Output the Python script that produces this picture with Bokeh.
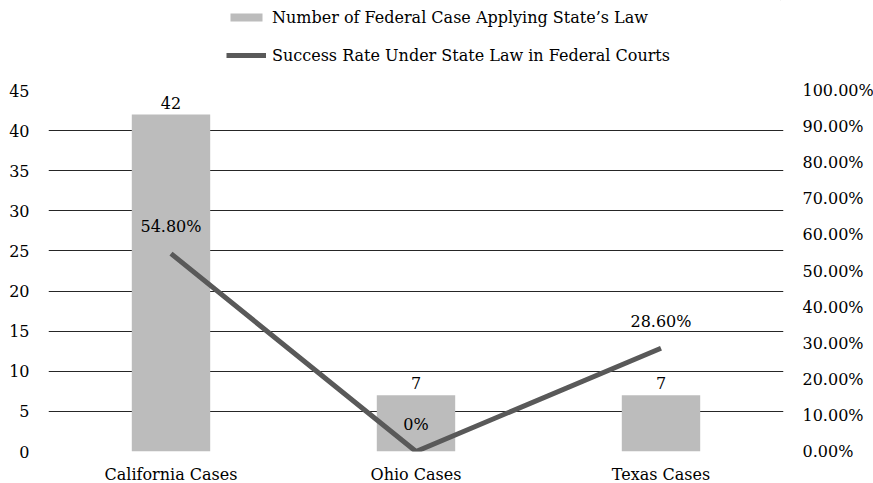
from bokeh.plotting import figure
from bokeh.layouts import column
from bokeh.models import (ColumnDataSource, Range1d, LinearAxis, FixedTicker,
                          NumeralTickFormatter, Legend, LegendItem, FactorRange)
from bokeh.core.properties import value
from bokeh.embed import file_html
from bokeh.resources import INLINE

categories = ["California Cases", "Ohio Cases", "Texas Cases"]
case_counts = [42, 7, 7]
count_labels = ["42", "7", "7"]
success_rates = [0.548, 0.0, 0.286]
rate_labels = ["54.80%", "0%", "28.60%"]
left_ticks = [0, 5, 10, 15, 20, 25, 30, 35, 40, 45]
right_ticks = [0.0, 0.1, 0.2, 0.3, 0.4, 0.5, 0.6, 0.7, 0.8, 0.9, 1.0]
series_names = ["Number of Federal Case Applying State\u2019s Law",
                "Success Rate Under State Law in Federal Courts"]

FONT = "DejaVu Serif"
FS = "16px"
BAR_COLOR = "#bcbcbc"
LINE_COLOR = "#595959"

src = ColumnDataSource(dict(cat=categories, cnt=case_counts, cntlab=count_labels,
                            rate=success_rates, ratelab=rate_labels))

# ---------------- main chart ----------------
p = figure(x_range=FactorRange(*categories), y_range=Range1d(0, 45),
           frame_width=735, frame_height=361,
           output_backend="svg", toolbar_location=None,
           min_border_left=48, min_border_right=90, min_border_top=12,
           min_border_bottom=32)
p.outline_line_color = None
p.background_fill_color = "white"
p.border_fill_color = "white"
p.x_range.range_padding = 0
p.extra_y_ranges = {"pct": Range1d(0, 1)}

p.vbar(x="cat", top="cnt", width=0.32, source=src,
       fill_color=BAR_COLOR, line_color=None)
p.line(x="cat", y="rate", source=src, y_range_name="pct",
       line_color=LINE_COLOR, line_width=5)

p.text(x="cat", y="cnt", text="cntlab", source=src, text_align="center",
       text_baseline="middle", y_offset=-12, text_font=value(FONT),
       text_font_size=FS, text_color="#000000")
p.text(x="cat", y="rate", text="ratelab", source=src, y_range_name="pct",
       text_align="center", text_baseline="middle", y_offset=-27,
       text_font=value(FONT), text_font_size=FS, text_color="#000000")

p.yaxis.ticker = FixedTicker(ticks=left_ticks)
for ax in [p.xaxis[0], p.yaxis[0]]:
    ax.axis_line_color = None
    ax.major_tick_line_color = None
    ax.minor_tick_line_color = None
    ax.major_tick_out = 0
    ax.major_tick_in = 0
    ax.minor_tick_out = 0
    ax.major_label_text_font = FONT
    ax.major_label_text_font_size = FS
    ax.major_label_text_color = "#000000"
p.yaxis.major_label_standoff = 19
p.xaxis.major_label_standoff = 13

raxis = LinearAxis(y_range_name="pct", ticker=FixedTicker(ticks=right_ticks),
                   formatter=NumeralTickFormatter(format="0.00%"))
raxis.axis_line_color = None
raxis.major_tick_line_color = None
raxis.minor_tick_line_color = None
raxis.major_tick_out = 0
raxis.major_tick_in = 0
raxis.minor_tick_out = 0
raxis.major_label_text_font = FONT
raxis.major_label_text_font_size = FS
raxis.major_label_text_color = "#000000"
raxis.major_label_standoff = 19
p.add_layout(raxis, "right")

p.xgrid.grid_line_color = None
p.ygrid.grid_line_color = "#262626"
p.ygrid.grid_line_width = 1
p.ygrid.ticker = FixedTicker(ticks=left_ticks)

# ---------------- legend strip ----------------
lg = figure(width=873, height=78, x_range=Range1d(-2, -1), y_range=Range1d(-2, -1),
            output_backend="svg", toolbar_location=None,
            x_axis_location=None, y_axis_location=None,
            min_border_left=0, min_border_right=0, min_border_top=0,
            min_border_bottom=0)
lg.outline_line_color = None
lg.grid.grid_line_color = None
lg.background_fill_color = "white"
lg.border_fill_color = "white"
# legend sample glyphs: same series, drawn outside this strip's visible ranges
r_bar = lg.vbar(x="cnt", top="cnt", width=0.1, source=src,
                fill_color=BAR_COLOR, line_color=None)
r_line = lg.line(x="cnt", y="rate", source=src, line_color=LINE_COLOR, line_width=5)

legend = Legend(items=[
    LegendItem(label=series_names[0], renderers=[r_bar]),
    LegendItem(label=series_names[1], renderers=[r_line]),
], location=(178, 13), orientation="vertical")
legend.border_line_color = None
legend.background_fill_alpha = 0
legend.padding = 0
legend.margin = 0
legend.spacing = 18
legend.glyph_width = 40
legend.glyph_height = 10
legend.label_height = 20
legend.label_standoff = 6
legend.label_text_font = FONT
legend.label_text_font_size = FS
legend.label_text_color = "#000000"
lg.add_layout(legend, "center")

layout = column(lg, p, spacing=0)
open("out.html", "w").write(file_html(layout, INLINE))
